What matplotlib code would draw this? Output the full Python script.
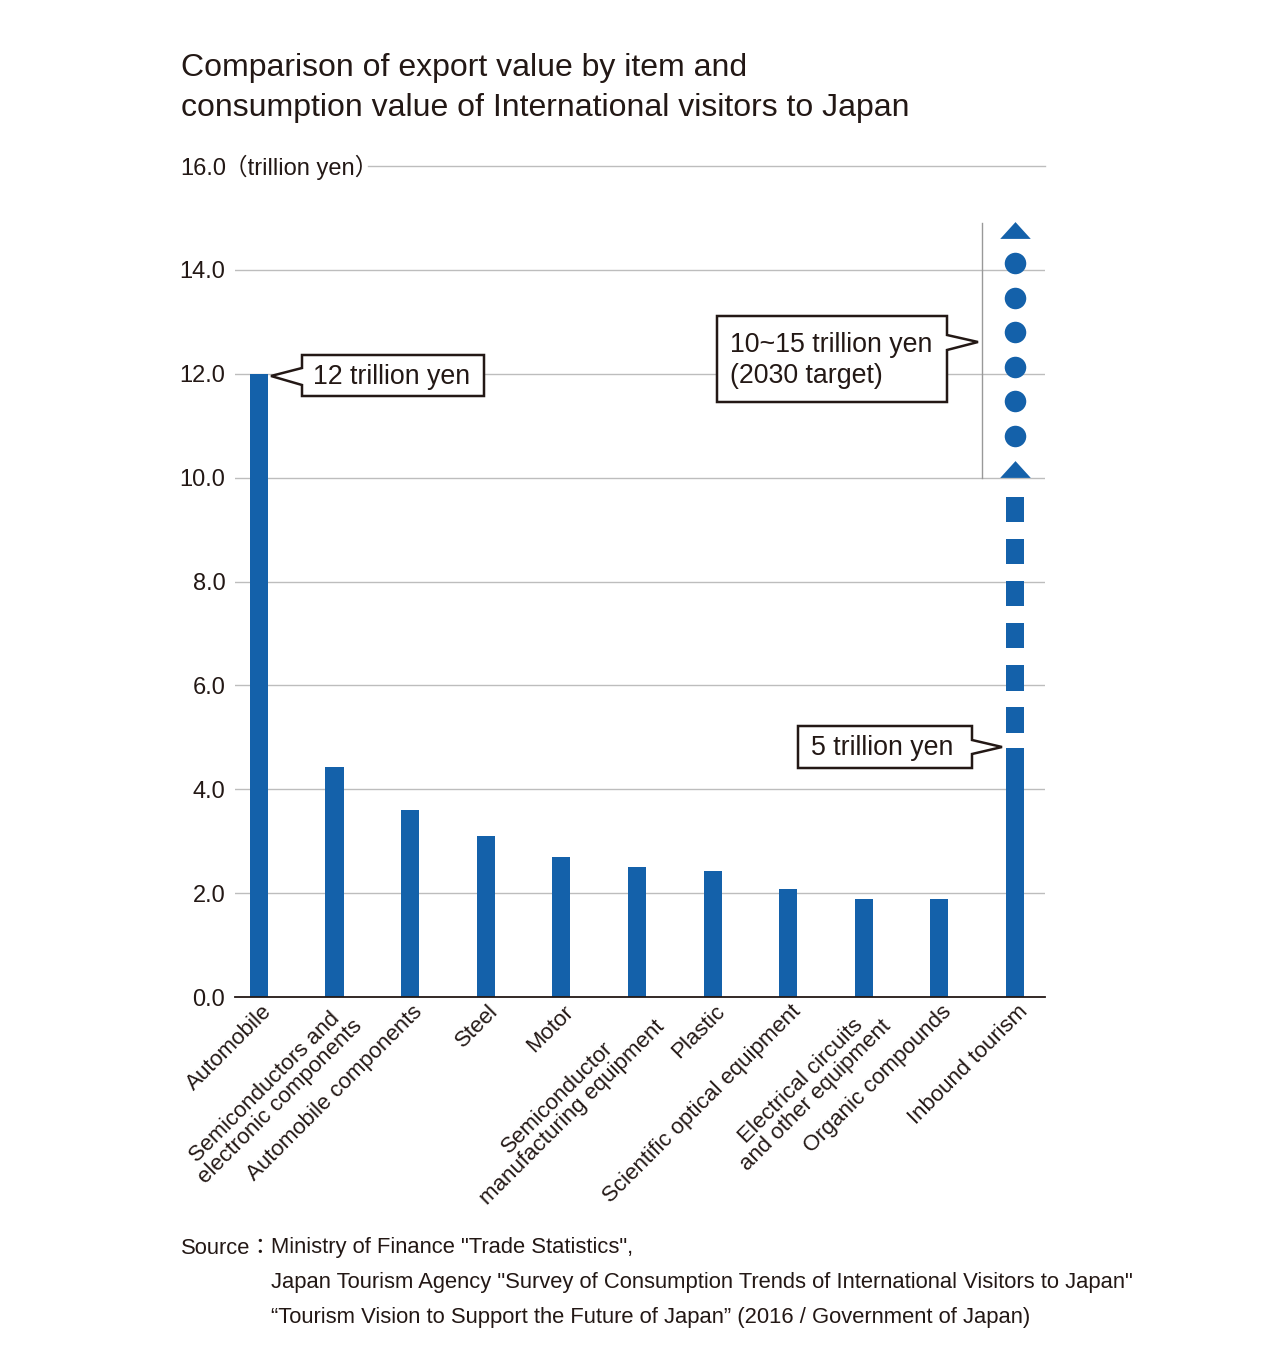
import numpy as np
import matplotlib
matplotlib.use("Agg")
import matplotlib.pyplot as plt
from matplotlib.patches import Polygon
from matplotlib.transforms import IdentityTransform, ScaledTranslation
from matplotlib.path import Path
from matplotlib import font_manager

# ---------------- data ----------------
categories = [
    "Automobile",
    "Semiconductors and\nelectronic components",
    "Automobile components",
    "Steel",
    "Motor",
    "Semiconductor\nmanufacturing equipment",
    "Plastic",
    "Scientific optical equipment",
    "Electrical circuits\nand other equipment",
    "Organic compounds",
    "Inbound tourism",
]
values = [12.0, 4.42, 3.6, 3.1, 2.7, 2.5, 2.42, 2.08, 1.88, 1.88, 4.8]
target_low = 10.0
target_high = 15.0
yticks = [0.0, 2.0, 4.0, 6.0, 8.0, 10.0, 12.0, 14.0, 16.0]
ytick_labels = ["0.0", "2.0", "4.0", "6.0", "8.0", "10.0", "12.0", "14.0", ""]

title = "Comparison of export value by item and\nconsumption value of International visitors to Japan"
unit_top = "16.0"
unit_label = "（trillion yen）"
source_head = "Source："
source_lines = [
    'Ministry of Finance "Trade Statistics",',
    'Japan Tourism Agency "Survey of Consumption Trends of International Visitors to Japan"',
    '“Tourism Vision to Support the Future of Japan” (2016 / Government of Japan)',
]
callout_auto = "12 trillion yen"
callout_target = "10~15 trillion yen\n(2030 target)"
callout_now = "5 trillion yen"

# ---------------- style ----------------
W, H = 1280, 1368
BLUE = "#1461aa"
TXT = "#231815"
GRID = "#bdbdbd"
FONT = ["Liberation Sans", "Noto Sans CJK JP", "DejaVu Sans"]
names = {f.name for f in font_manager.fontManager.ttflist}
NARROW = ["Liberation Sans Narrow", "Noto Sans CJK JP"] if "Liberation Sans Narrow" in names else ["Liberation Sans", "Noto Sans CJK JP"]
plt.rcParams["font.family"] = FONT
plt.rcParams["text.color"] = TXT

fig = plt.figure(figsize=(W / 100, H / 100), dpi=100)
fig.patch.set_facecolor("white")

def fx(x):
    return x / W

def fy(y):
    return 1 - y / H

ax = fig.add_axes([fx(235), fy(997), fx(1045) - fx(235), fy(166) - fy(997)])
ax.set_xlim(-0.317, 10.397)
ax.set_ylim(0, 16)
ax.patch.set_alpha(0)

# grid lines
for t in yticks[1:-1]:
    ax.axhline(t, color=GRID, lw=1.0, zorder=0)
ax.axhline(16, xmin=(368 - 235) / (1045 - 235), xmax=1, color=GRID, lw=1.0, zorder=0, clip_on=False)

x = np.arange(len(categories))
bw = 0.24
ax.bar(x, values, width=bw, color=BLUE, zorder=3)

# dashed part for inbound tourism (from current value up to target)
ti = len(categories) - 1
n_dash = 6
period = 0.81
dash_len = 0.49
dash_tops = [target_low - 0.37 - i * period for i in range(n_dash)]
ax.bar([ti] * n_dash, [dash_len] * n_dash, bottom=[t - dash_len for t in dash_tops],
       width=bw, color=BLUE, zorder=3)

# triangle + circles for the target range
tri = Path([(-1, -0.55), (1, -0.55), (0, 0.55), (-1, -0.55)],
           [Path.MOVETO, Path.LINETO, Path.LINETO, Path.CLOSEPOLY])
ax.plot([ti, ti], [target_low + 0.17, target_high - 0.23], ls="none", marker=tri,
        ms=22, color=BLUE, mec="none", zorder=4, clip_on=False)
circ_y = np.linspace(target_low + 0.8, target_high - 0.87, 6)
ax.plot([ti] * len(circ_y), circ_y, ls="none", marker="o", ms=15.5, color=BLUE,
        mec="none", zorder=4)
# thin bracket line
ax.plot([9.563, 9.563], [target_low, target_high - 0.1], color="#999999", lw=1.0, zorder=2)

# axes styling
for s in ["top", "right", "left"]:
    ax.spines[s].set_visible(False)
ax.spines["bottom"].set_color(TXT)
ax.spines["bottom"].set_linewidth(1.3)
ax.spines["bottom"].set_zorder(5)
ax.set_yticks(yticks)
ax.set_yticklabels(ytick_labels, fontsize=17, color=TXT)
ax.tick_params(axis="y", length=0, pad=7)
ax.set_xticks(x)
ax.set_xticklabels(categories, rotation=45, ha="right", va="top",
                   rotation_mode="anchor", multialignment="center",
                   fontsize=16, color=TXT, linespacing=1.0)
ax.tick_params(axis="x", length=0, pad=3)
off = ScaledTranslation(2 / 100, 0, fig.dpi_scale_trans)
for lab in ax.get_xticklabels():
    lab.set_transform(lab.get_transform() + off)

# unit label
fig.text(fx(180), fy(175), unit_top, fontsize=17, ha="left", va="baseline", color=TXT)
fig.text(fx(224), fy(175), unit_label, fontsize=17, ha="left", va="baseline", color=TXT)

# title
fig.text(fx(181), fy(88), title, fontsize=23, ha="left", va="center", color=TXT, linespacing=1.45)

# source
fig.text(fx(181), fy(1248), source_head, fontsize=15.8, ha="left", va="center", family=NARROW)
for i, line in enumerate(source_lines):
    fig.text(fx(271), fy(1248 + 34.5 * i), line, fontsize=15.8, ha="left", va="center", family=NARROW)

# callouts (pixel coordinates, y from top)
def callout(box, notch, side, text, tx, ty):
    l, t, r, b = box
    n1, tip, n2 = notch
    if side == "left":
        pts = [(l, t), (r, t), (r, b), (l, b), (l, n2), tip, (l, n1)]
    else:
        pts = [(l, t), (r, t), (r, n1), tip, (r, n2), (r, b), (l, b)]
    disp = [(px, H - py) for px, py in pts]
    poly = Polygon(disp, closed=True, facecolor="white", edgecolor=TXT, lw=1.8,
                   transform=IdentityTransform(), zorder=6)
    fig.add_artist(poly)
    fig.text(fx(tx), fy(ty), text, fontsize=19.3, ha="left", va="center", color=TXT,
             zorder=7, linespacing=1.25)

callout((302, 355, 484, 396), (368, (271, 376), 385), "left", callout_auto, 313, 377)
callout((717, 316, 947, 402), (335, (978, 342), 350), "right", callout_target, 730, 361)
callout((798, 726, 972, 768), (740, (1002, 747), 754), "right", callout_now, 811, 748)

fig.savefig("out.png", dpi=100, facecolor="white")
